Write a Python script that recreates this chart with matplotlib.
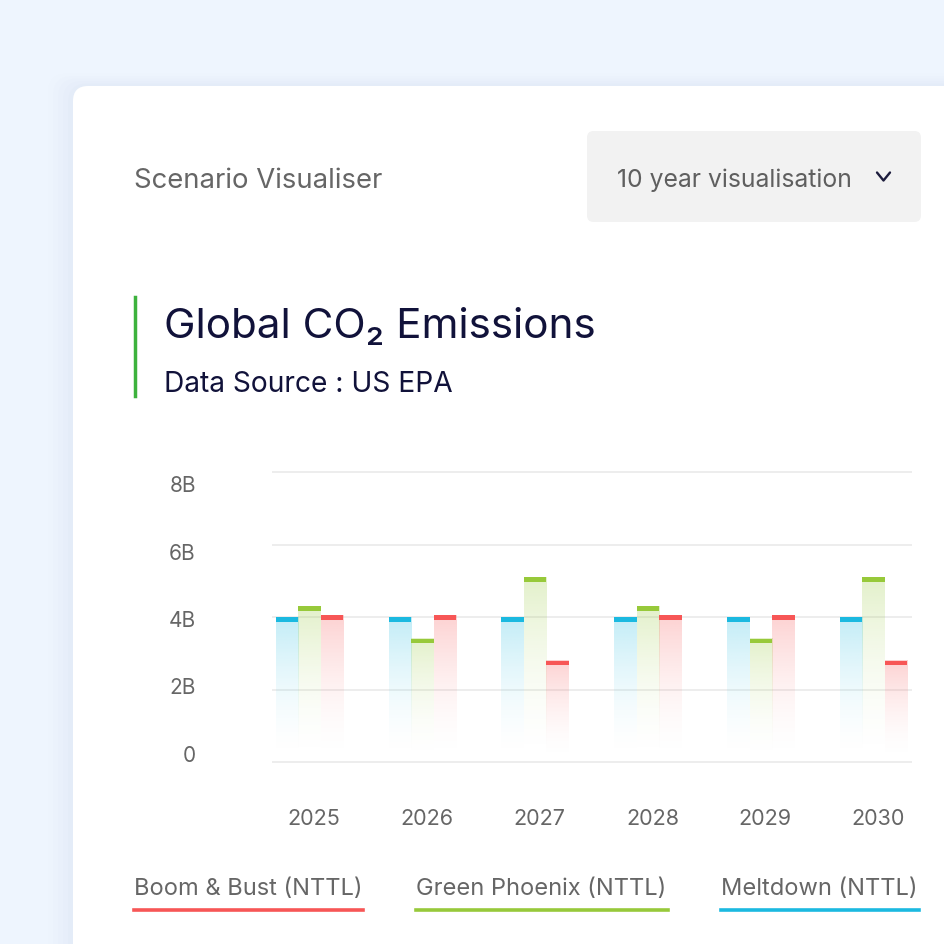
import numpy as np
import matplotlib
matplotlib.use("Agg")
import matplotlib.pyplot as plt
from matplotlib.patches import FancyBboxPatch
from matplotlib.lines import Line2D
from matplotlib.colors import to_rgb

plt.rcParams['font.family'] = ['Inter', 'DejaVu Sans']

# ---------------- data ----------------
years = ["2025", "2026", "2027", "2028", "2029", "2030"]
meltdown = [4.0, 4.0, 4.0, 4.0, 4.0, 4.0]          # blue
green_phoenix = [4.3, 3.4, 5.1, 4.3, 3.4, 5.1]     # green
boom_bust = [4.05, 4.05, 2.8, 4.05, 4.05, 2.8]     # red
y_ticks = [0, 2, 4, 6, 8]
y_tick_labels = ["0", "2B", "4B", "6B", "8B"]
legend_names = ["Boom & Bust (NTTL)", "Green Phoenix (NTTL)", "Meltdown (NTTL)"]

BLUE = "#1bb9e0"
GREEN = "#97c93a"
RED = "#f75656"

W = H = 944
fig = plt.figure(figsize=(W / 100, H / 100), dpi=100)
fig.patch.set_facecolor("#eef5fe")

def fx(px):
    return px / W

def fy(py):
    return 1 - py / H

# card shadow + card
for i, a in enumerate([0.012, 0.015, 0.02, 0.025, 0.03]):
    off = (5 - i) * 5
    fig.patches.append(FancyBboxPatch((fx(73 - off), fy(1000)), fx(1000), fy(86 - off * 0.5) - fy(1000),
                                      boxstyle="round,pad=0,rounding_size=0.02",
                                      transform=fig.transFigure, facecolor="#9fb3d9",
                                      edgecolor="none", alpha=a, zorder=0))
fig.patches.append(FancyBboxPatch((fx(73), fy(1000)), fx(1000), fy(86) - fy(1000),
                                  boxstyle="round,pad=0,rounding_size=0.016",
                                  transform=fig.transFigure, facecolor="white",
                                  edgecolor="none", zorder=1))

# header
fig.text(fx(134), fy(178), "Scenario Visualiser", fontsize=19.8, color="#666666",
         va="center_baseline", ha="left", zorder=3)
fig.patches.append(FancyBboxPatch((fx(587), fy(222)), fx(921 - 587), fy(131) - fy(222),
                                  boxstyle="round,pad=0,rounding_size=0.007",
                                  transform=fig.transFigure, facecolor="#f2f2f2",
                                  edgecolor="none", zorder=2))
fig.text(fx(617), fy(178), "10 year visualisation", fontsize=17.8, color="#5f5f5f",
         va="center_baseline", ha="left", zorder=3)
fig.lines.append(Line2D([fx(877), fx(883.5), fx(890)], [fy(172.5), fy(180.5), fy(172.5)],
                        transform=fig.transFigure, color="#1d1d3d", lw=1.7, zorder=3,
                        solid_capstyle="round", solid_joinstyle="round"))

# title block
fig.lines.append(Line2D([fx(134.5), fx(134.5)], [fy(297), fy(396)], transform=fig.transFigure,
                        color="#3db23d", lw=2.5, zorder=3))
fig.text(fx(164), fy(323), "Global CO\u2082 Emissions", fontsize=30.4, color="#11123a",
         va="center_baseline", ha="left", zorder=3)
fig.text(fx(164), fy(382), "Data Source : US EPA", fontsize=20.3, color="#11123a",
         va="center_baseline", ha="left", zorder=3)

# ---------------- chart ----------------
ypad = 0.1
ax = fig.add_axes([fx(272), fy(762) - ypad * 36.25 / H, fx(912 - 272), (290 + 2 * ypad * 36.25) / H])
ax.set_facecolor("none")
ax.set_zorder(4)

bw = 0.2
cap = 0.13
series = [(meltdown, BLUE, -bw), (green_phoenix, GREEN, 0.0), (boom_bust, RED, bw)]
n = 256
t = np.linspace(0, 1, n)[:, None]  # 0 bottom, 1 top
for vals, col, off in series:
    r, g, b = to_rgb(col)
    alpha = 0.27 * t ** 1.8
    grad = np.zeros((n, 1, 4))
    grad[..., 0] = r
    grad[..., 1] = g
    grad[..., 2] = b
    grad[..., 3] = alpha
    for i, v in enumerate(vals):
        x0 = i + off - bw / 2
        ax.imshow(grad, extent=(x0, x0 + bw, 0, v), origin="lower", aspect="auto",
                  interpolation="bilinear", zorder=2)
    ax.bar(np.arange(len(vals)) + off, [cap] * len(vals), bottom=np.array(vals) - cap,
           width=bw, color=col, zorder=3, linewidth=0)

ax.set_xlim(-0.333, 5.34)
ax.set_ylim(-ypad, 8 + ypad)
for yv in y_ticks:
    ax.axhline(yv, color="#ececec", lw=1.3, zorder=1)
for s in ax.spines.values():
    s.set_visible(False)
ax.set_yticks([])
ax.set_xticks(np.arange(len(years)) + 0.04)
ax.set_xticklabels(years, fontsize=15.5, color="#666666")
ax.tick_params(axis="x", length=0, pad=31.5)

# y labels (own scale, as in the reference)
lab = fig.add_axes([fx(200), fy(754), 0.001, (754 - 484) / H])
lab.set_ylim(0, 8)
lab.set_yticks(y_ticks)
lab.set_yticklabels(y_tick_labels, fontsize=15, color="#666666")
lab.tick_params(axis="y", length=0, pad=3)
lab.set_xticks([])
for s in lab.spines.values():
    s.set_visible(False)
lab.set_facecolor("none")
lab.set_zorder(4)

# legend
legend_cols = [RED, GREEN, BLUE]
legend_x = [(134, 363), (416, 668), (721, 919)]
for name, col, (xa, xb) in zip(legend_names, legend_cols, legend_x):
    fig.text(fx(xa), fy(886), name, fontsize=17, color="#666666", va="center_baseline",
             ha="left", zorder=5)
    fig.lines.append(Line2D([fx(xa), fx(xb)], [fy(909.5), fy(909.5)], transform=fig.transFigure,
                            color=col, lw=2.6, zorder=5))

fig.savefig("out.png", dpi=100, facecolor=fig.get_facecolor())
